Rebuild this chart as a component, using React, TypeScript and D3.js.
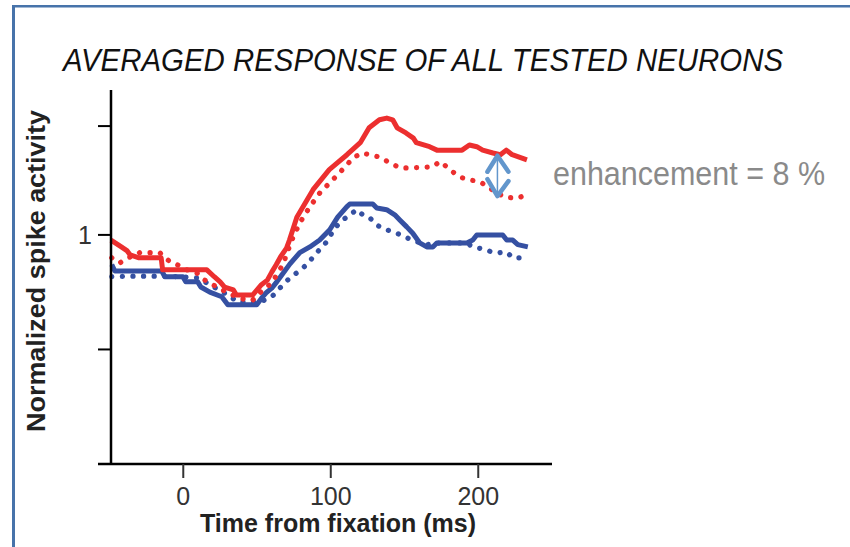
import React from "react";
import * as d3 from "d3";

type P = [number, number];

// time (ms), normalized spike activity
const redSolid: P[] = [
  [-49, 0.991], [-42, 0.979], [-38, 0.972], [-36, 0.965], [-30, 0.96], [-15, 0.96], [-14, 0.939],
  [16, 0.939], [21, 0.927], [25, 0.918], [28, 0.909], [34, 0.904], [36, 0.895], [47, 0.895],
  [50, 0.904], [53, 0.913], [57, 0.921], [60, 0.935], [63, 0.948], [66, 0.962], [70, 0.977],
  [72, 0.991], [77, 1.031], [88, 1.079], [99, 1.114], [111, 1.14], [120, 1.161], [126, 1.187],
  [133, 1.201], [138, 1.204], [142, 1.201], [145, 1.187], [151, 1.178], [156, 1.169], [158, 1.161],
  [167, 1.154], [172, 1.148], [189, 1.148], [194, 1.157], [199, 1.154], [203, 1.148], [210, 1.143],
  [215, 1.14], [219, 1.148], [223, 1.14], [233, 1.131],
];

const redDotted: P[] = [
  [-48.5, 0.96], [-43, 0.951], [-39, 0.958], [-29.5, 0.969], [-16, 0.969], [-9, 0.953], [-4, 0.948],
  [2.4, 0.939], [9, 0.934], [14.6, 0.921], [22.7, 0.909], [29.5, 0.9], [36, 0.892], [43, 0.886],
  [47, 0.886], [54, 0.904], [60, 0.916], [67.5, 0.948], [73.6, 0.991], [79, 1.021], [85.8, 1.049],
  [92.5, 1.073], [99.3, 1.091], [104.7, 1.105], [110.8, 1.122], [115, 1.134], [121, 1.143],
  [126.4, 1.14], [133, 1.136], [140, 1.126], [147, 1.117], [155.6, 1.117], [169, 1.119], [174, 1.128],
  [178.6, 1.119], [182.7, 1.11], [188.8, 1.1], [194, 1.096], [201, 1.093], [207.8, 1.082],
  [212.5, 1.073], [219.3, 1.065], [228, 1.065], [233.6, 1.073],
];

const blueSolid: P[] = [
  [-48.5, 0.948], [-46.4, 0.937], [-14.6, 0.937], [-12.5, 0.927], [-0.3, 0.927], [1.7, 0.918],
  [9.8, 0.918], [11.9, 0.909], [18, 0.9], [26.1, 0.892], [30.2, 0.878], [49.8, 0.878], [53.2, 0.89],
  [56.6, 0.9], [60, 0.907], [63.4, 0.918], [66.8, 0.93], [72.2, 0.949], [79, 0.969], [85.8, 0.979],
  [92.5, 0.991], [99.3, 1.009], [104.7, 1.031], [110.8, 1.049], [112.9, 1.054], [128.5, 1.054],
  [131.2, 1.047], [137.9, 1.044], [143.4, 1.035], [146.8, 1.026], [151.5, 1.014], [155.6, 1.003],
  [160.3, 0.986], [165.1, 0.979], [169.2, 0.979], [171.9, 0.986], [192.2, 0.986], [196.3, 0.991],
  [199, 1.0], [216.6, 1.0], [219.3, 0.991], [223.4, 0.991], [226.8, 0.983], [233.6, 0.979],
];

const blueDotted: P[] = [
  [-48.5, 0.927], [-36.3, 0.928], [-16, 0.928], [-2.4, 0.927], [9.2, 0.925], [14.6, 0.918],
  [22.7, 0.906], [30.2, 0.895], [37, 0.883], [47.1, 0.883], [55.3, 0.886], [60, 0.892], [65.4, 0.907],
  [70.2, 0.92], [77, 0.934], [83.7, 0.948], [90.5, 0.969], [97.3, 0.988], [102.7, 1.012],
  [108.1, 1.026], [112.9, 1.035], [117.6, 1.044], [121.7, 1.035], [126.4, 1.03], [131.2, 1.017],
  [137.9, 1.009], [144.7, 1.003], [151.5, 0.995], [158.3, 0.988], [165.1, 0.983], [173.9, 0.986],
  [192.2, 0.986], [196.3, 0.979], [205.8, 0.974], [209.8, 0.969], [214.6, 0.969], [219.3, 0.97],
  [223.4, 0.96], [228.1, 0.96], [233.6, 0.965],
];

const xTicks = [0, 100, 200];
const yTicks = [0.6, 0.8, 1.0, 1.19];
const yTickLabels: Record<string, string> = { "1": "1" };

const titleText = "AVERAGED RESPONSE OF ALL TESTED NEURONS";
const xLabel = "Time from fixation (ms)";
const yLabel = "Normalized spike activity";
const noteText = "enhancement = 8 %";
const arrowT = 213;
const arrowTop = 1.14;
const arrowBottom = 1.066;

const RED = "#ec2f2f";
const BLUE = "#3550a2";
const ARROW = "#6296cc";
const BORDER = "#4773aa";
const FONT = "'Liberation Sans', Arial, Helvetica, sans-serif";

export default function App() {
  const x = d3.scaleLinear().domain([-49, 250]).range([111, 552]);
  const y = d3.scaleLinear().domain([0.6, 1.253]).range([464, 90]);
  const line = d3
    .line<P>()
    .x((d) => x(d[0]))
    .y((d) => y(d[1]));

  const ax = x(arrowT);
  const ay1 = y(arrowTop);
  const ay2 = y(arrowBottom);

  return (
    <svg
      width={850}
      height={547}
      style={{ position: "absolute", left: 0, top: 0, display: "block", background: "#fff" }}
      fontFamily={FONT}
    >
      <rect x={0} y={0} width={850} height={547} fill="#fff" />
      {/* frame */}
      <line x1={13.5} y1={5} x2={13.5} y2={547} stroke={BORDER} strokeWidth={3} />
      <line x1={12} y1={6.3} x2={850} y2={6.3} stroke={BORDER} strokeWidth={2.6} />

      <text
        x={63}
        y={71}
        fontSize={31}
        fontStyle="italic"
        fill="#111"
        textLength={720}
        lengthAdjust="spacingAndGlyphs"
      >
        {titleText}
      </text>

      {/* series */}
      <path d={line(blueSolid) || ""} fill="none" stroke={BLUE} strokeWidth={5} strokeLinejoin="round" />
      <path
        d={line(blueDotted) || ""}
        fill="none"
        stroke={BLUE}
        strokeWidth={5.2}
        strokeLinecap="round"
        strokeDasharray="0.1 10.5"
      />
      <path d={line(redSolid) || ""} fill="none" stroke={RED} strokeWidth={5} strokeLinejoin="round" />
      <path
        d={line(redDotted) || ""}
        fill="none"
        stroke={RED}
        strokeWidth={5.2}
        strokeLinecap="round"
        strokeDasharray="0.1 10.5"
      />

      {/* axes */}
      <line x1={x(-49)} y1={y(1.253)} x2={x(-49)} y2={y(0.6) + 1} stroke="#000" strokeWidth={2.5} />
      <line x1={98} y1={y(0.6)} x2={x(250)} y2={y(0.6)} stroke="#000" strokeWidth={2.5} />
      {yTicks.map((t) => (
        <g key={"y" + t}>
          <line x1={98} x2={x(-49)} y1={y(t)} y2={y(t)} stroke="#000" strokeWidth={2} />
          {yTickLabels[String(t)] && (
            <text x={85} y={y(t) + 9} fontSize={25} textAnchor="middle" fill="#333">
              {yTickLabels[String(t)]}
            </text>
          )}
        </g>
      ))}
      {xTicks.map((t) => (
        <g key={"x" + t}>
          <line x1={x(t)} x2={x(t)} y1={y(0.6)} y2={y(0.6) + 14} stroke="#333" strokeWidth={2} />
          <text x={x(t)} y={505} fontSize={25} textAnchor="middle" fill="#333">
            {t}
          </text>
        </g>
      ))}
      <text x={338} y={532} fontSize={25} fontWeight="bold" textAnchor="middle" fill="#222">
        {xLabel}
      </text>
      <text
        transform={`translate(45,271) rotate(-90)`}
        fontSize={25}
        fontWeight="bold"
        textAnchor="middle"
        fill="#222"
        textLength={322}
        lengthAdjust="spacingAndGlyphs"
      >
        {yLabel}
      </text>

      {/* annotation */}
      <line x1={ax} x2={ax} y1={ay1} y2={ay2} stroke={ARROW} strokeWidth={1.5} />
      <polyline
        points={`${ax - 10},${ay1 + 17} ${ax},${ay1 + 1} ${ax + 11},${ay1 + 17}`}
        fill="none"
        stroke={ARROW}
        strokeWidth={4.5}
        strokeLinejoin="round"
        strokeLinecap="round"
      />
      <polyline
        points={`${ax - 10},${ay2 - 18} ${ax},${ay2 - 1} ${ax + 11},${ay2 - 16}`}
        fill="none"
        stroke={ARROW}
        strokeWidth={4.5}
        strokeLinejoin="round"
        strokeLinecap="round"
      />
      <text x={553} y={185} fontSize={33} fill="#8a8a8a" textLength={272} lengthAdjust="spacingAndGlyphs">
        {noteText}
      </text>
    </svg>
  );
}
